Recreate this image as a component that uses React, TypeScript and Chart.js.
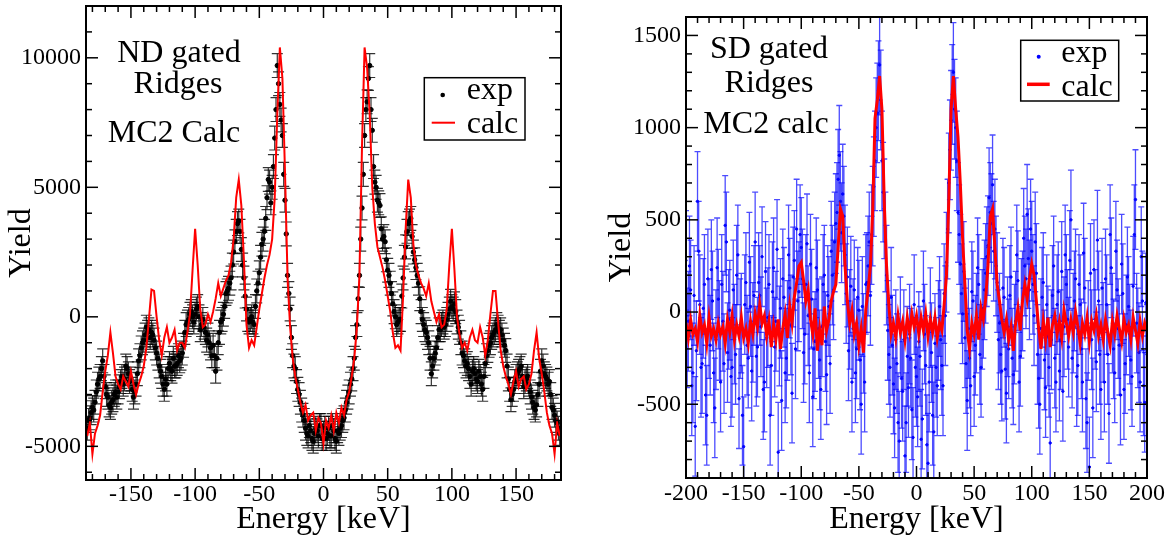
import React, { useEffect, useRef } from 'react';
import { Chart, registerables } from 'chart.js';

Chart.register(...registerables);

const FONT = "'Liberation Serif', 'Times New Roman', Times, serif";
Chart.defaults.font.family = FONT;
Chart.defaults.color = '#000';

// ---------------- Left panel: ND gated ridges ----------------
// even-keV bins, from -184 keV in steps of 2
const ENERGY_L_START = -184;
const ENERGY_L_STEP = 2;
// odd-keV bins, from -183 keV in steps of 2
const ENERGY_L_ODD_START = -183;

const EXP_L = [
  -4300, -3900, -3500, -3300, -2600, -2300, -1700, -2700, -3100, -3500,
  -3200, -2900, -2900, -2500, -2600, -1900, -2200, -2400, -3100, -2600,
  -1700, -1200, -900, -400, -500, -600, -900, -1400, -1900, -2300,
  -2800, -2600, -1800, -2100, -1900, -1800, -1700, -1400, -600, -200,
  100, 0, 100, 400, -500, -100, -600, -700, -1200, -1100,
  -2100, -1000, -200, 100, 900, 1100, 1500, 2500, 3300, 3700,
  2600, 1500, 300, -200, 0, -300, 1000, 1700, 2800, 3300,
  4600, 5200, 5000, 6900, 9700, 8200, 7000, 4500, 1600, 300,
  -1500, -2000, -2800, -3300, -3800, -4300, -4600, -4400, -4800, -4300,
  -4600, -4200, -4500, -4700, -4300, -4600, -4400, -4800, -4500, -4200,
  -3900, -3300, -2900, -2400, -1600, -300, 1600, 4200, 7000, 8300,
  9700, 7200, 5200, 4500, 4300, 3000, 2900, 1800, 1300, 500,
  0, -200, -100, 1500, 2700, 3600, 3800, 2500, 1900, 1300,
  200, -300, -600, -1000, -2200, -1600, -1200, -500, -300, -400,
  -100, 300, 400, 500, -200, -600, -1400, -1700, -1800, -2300,
  -2100, -2200, -2500, -2300, -2800, -1800, -1300, -1000, -700, -500,
  -400, -500, -900, -1300, -2400, -3200, -2800, -2300, -2100, -1900,
  -2700, -2400, -2600, -3100, -3500, -3400, -2600, -1700, -2200, -2400,
  -2500, -3500, -3800, -4100, -4500,
];

const EXP_L_ODD = [
  -4000, -3700, -3600, -2900, -2400, -2000, -2300, -3000, -3400, -3300,
  -3000, -3100, -2700, -2300, -2400, -2000, -2500, -2800, -2900, -2200,
  -1500, -1000, -700, -600, -800, -700, -1200, -1600, -2100, -2600,
  -2400, -2000, -2000, -1600, -1900, -1500, -1600, -1100, -300, -100,
  200, -200, 300, 0, -300, -400, -900, -1000, -1500, -1500,
  -1600, -600, -100, 400, 1000, 1300, 2000, 2900, 3600, 3300,
  2000, 800, -100, -100, -200, 400, 1300, 2300, 3000, 3800,
  5300, 4400, 5800, 8000, 9000, 7600, 5500, 3200, 900, -800,
  -1900, -2500, -3000, -3600, -4000, -4500, -4200, -4700, -4500, -4400,
  -4200, -4700, -4300, -4500, -4600, -4200, -4700, -4400, -4300, -4000,
  -3600, -3100, -2600, -2000, -800, 700, 3000, 5500, 8000, 9200,
  8000, 5800, 5000, 4400, 3400, 3100, 2200, 1600, 900, 200,
  -300, -100, 800, 2300, 3300, 3700, 3100, 2200, 1600, 700,
  -100, -500, -800, -1600, -1900, -1400, -800, -500, -200, -300,
  100, 600, 300, 200, -400, -1000, -1500, -1900, -2000, -2600,
  -2000, -2400, -2100, -2600, -2300, -1500, -1100, -800, -600, -300,
  -600, -700, -1100, -1900, -2800, -3000, -2500, -2200, -2000, -2300,
  -2500, -2300, -2900, -3300, -3600, -3000, -2100, -1900, -2300, -2600,
  -3000, -3600, -4000, -4300,
];

const CALC_L = [
  -4600, -4100, -5300, -4500, -4200, -3800, -2900, -2100, -1500, -600,
  -1400, -2300, -2600, -2800, -2300, -2500, -2700, -2100, -2600, -3000,
  -2600, -2300, -1900, -1200, -100, 1050, 1000, 0, -900, -1500,
  -800, -400, -1000, -800, -500, -1300, -1000, -1000, -1200, -600,
  100, 1800, 3400, 2000, 300, -400, -300, 100, -200, 200,
  700, 1300, 800, 1100, 1400, 1600, 2100, 3000, 4600, 5300,
  4300, 2200, -300, -1200, -900, -1100, -400, 300, 900, 1500,
  2000, 2400, 3000, 4600, 7800, 10400, 9200, 5600, 1500, -400,
  -1600, -2300, -2800, -3300, -3700, -3400, -4000, -3800, -3700, -4400,
  -3900, -4100, -4900, -4000, -4300, -3800, -4400, -3700, -4100, -3500,
  -3800, -3200, -2900, -2300, -1600, -400, 1600, 6600, 10400, 9600,
  7800, 5000, 3600, 2700, 2300, 1900, 1400, 800, 200, -600,
  -1200, -1100, -1300, 800, 3400, 5300, 4600, 2800, 2000, 1600,
  1300, 1100, 800, 1300, 600, 200, -200, 100, -400, -300,
  300, 2000, 3400, 1800, 0, -700, -1200, -1000, -1300, -800,
  -500, -900, -1000, -400, -800, -1500, -900, 100, 1000, 1000,
  -200, -1300, -1900, -2300, -2600, -3000, -2500, -2100, -2700, -2400,
  -2300, -2800, -2600, -2200, -1300, -600, -1600, -2200, -2900, -3700,
  -4200, -4500, -5300, -4100, -4600,
];

const EXP_L_ERR = 460;
const X_TICKS_L = [-150, -100, -50, 0, 50, 100, 150];
const Y_TICKS_L = [-5000, 0, 5000, 10000];
const ENERGY_L = CALC_L.map((_, i) => ENERGY_L_START + i * ENERGY_L_STEP);
const ENERGY_L_ODD = EXP_L_ODD.map((_, i) => ENERGY_L_ODD_START + i * ENERGY_L_STEP);

// ---------------- Right panel: SD gated ridges ----------------
const ENERGY_R_START = -200;
const ENERGY_R_STEP = 2;
const ENERGY_R_ODD_START = -199;

const EXP_R = [
  280, -50, 120, -330, -620, 600, 40, -280, 150, -560,
  -90, 230, -330, -150, 70, -380, -50, 470, -220, 10,
  -300, -120, 200, -470, -60, -730, 160, -250, 30, -110,
  380, -190, 90, 300, -380, -140, 150, -290, 240, -50,
  -760, 20, 180, -330, -100, 130, -440, 280, 450, 110,
  350, -220, 150, -20, 260, -460, -160, 120, -260, -80,
  200, -340, 30, 330, 120, 480, 720, 600, 640, 310,
  190, -40, -380, 120, -200, 10, -500, -170, 150, 250,
  90, 520, 820, 1080, 1340, 820, 560, 200, -230, 80,
  -390, -150, -600, -80, -430, -780, -240, -120, -530, 40,
  -350, -160, -690, 60, -290, -820, -30, -560, -170, -400,
  30, -290, 100, 270, 700, 1040, 1300, 1000, 540, 260,
  -10, -140, -480, -250, 110, -350, -60, 150, -300, 20,
  210, 360, 540, 690, 450, 160, -60, -320, 80, -440,
  -200, 190, -340, -50, 170, -240, 60, 250, 530, 120,
  330, -20, 210, -360, -90, 160, -410, -130, -710, 90,
  -250, 40, -320, 220, -80, 150, -190, 500, -60, 180,
  -290, 40, -380, 130, -600, -840, -150, 230, -270, 60,
  -420, -110, 180, -230, 420, -60, -330, 120, -180, 260,
  -420, -70, 30, -260, 140, 610, -140, -380, 60, -490,
  -230,
];

const EXP_R_ODD = [
  -140, 250, -400, 90, -210, 330, -300, 20, -450, 180,
  -180, 60, -520, 240, -100, 150, -280, 380, -40, -350,
  120, -230, 310, -90, -560, 40, -180, 270, -320, 90,
  -240, 160, -80, -420, 220, -30, -560, 110, -190, 340,
  -130, -480, 80, -250, 310, -70, 190, -200, 60, 420,
  180, -120, 370, -330, 70, -200, 240, -90, -420, 150,
  -160, 90, -280, 200, 380, 540, 850, 430, 520, 100,
  -210, 140, -90, -330, 80, -260, 30, -380, 160, 380,
  420, 680, 1000, 1200, 1150, 650, 380, -100, -300, -180,
  -520, -280, -700, -360, -150, -600, -410, -250, -680, -300,
  -460, -240, -580, -120, -720, -380, -220, -650, -300, -100,
  -150, -400, -20, 450, 880, 1180, 1100, 820, 420, 100,
  220, -280, -90, -400, 60, -180, 240, -230, -40, 120,
  300, 620, 480, 330, 250, -150, -230, 130, -310, -80,
  90, -250, -120, 310, -380, 20, 400, 180, 290, 450,
  150, 380, -230, -500, 80, -260, 40, -300, -150, 250,
  -380, 110, -150, -430, 310, -40, 280, -250, 60, -350,
  150, -200, 320, -470, -100, 210, -520, -40, 390, -230,
  130, -380, 40, -550, 240, -200, 330, -90, -450, 100,
  -280, 190, -120, -350, 420, -60, -220, 300, -400, 50,
];

const CALC_R = [
  -60, -140, -40, -120, -90, -160, -20, -110, -70, -170,
  -30, -130, -90, -150, -60, -120, -80, -170, -40, -110,
  -20, -150, -70, -130, -30, -140, -90, -170, -50, -120,
  -10, -80, 40, -60, -20, -130, -50, -190, -70, -150,
  -40, -200, -90, -10, -140, 30, -60, 80, 160, 250,
  270, 170, 60, 120, -40, -120, 20, -210, -90, -180,
  30, -100, -40, 60, 110, 150, 350, 560, 520, 250,
  60, -60, 10, -120, -60, -180, -90, -220, 10, 120,
  250, 550, 1050, 1150, 1280, 1100, 600, 250, 40, -120,
  -60, -140, -20, -110, -50, -150, -30, -110, -10, -80,
  -20, -120, -30, -100, -10, -130, -40, -110, -30, -140,
  -60, -100, 40, 200, 600, 1100, 1280, 1100, 950, 700,
  400, 150, -100, -200, -60, -120, -20, -150, 20, -40,
  70, 250, 520, 560, 350, 150, 60, -40, -110, -40,
  -150, -80, -210, -60, 20, -100, 60, 150, 70, 180,
  260, 200, 60, -90, -200, -50, -150, -30, -190, -70,
  -20, -120, -50, -140, 10, -60, -130, -40, -110, 0,
  -80, -170, -60, -120, -30, -160, -50, -100, -20, -130,
  -70, -150, -40, -110, -180, -50, -120, -20, -90, -160,
  -40, -110, -70, -150, -30, -100, -170, -50, -130, -60,
  -100,
];

const EXP_R_ERR = 270;
const X_TICKS_R = [-200, -150, -100, -50, 0, 50, 100, 150, 200];
const Y_TICKS_R = [-500, 0, 500, 1000, 1500];
const ENERGY_R = CALC_R.map((_, i) => ENERGY_R_START + i * ENERGY_R_STEP);
const ENERGY_R_ODD = EXP_R_ODD.map((_, i) => ENERGY_R_ODD_START + i * ENERGY_R_STEP);

// ---------------- Plugins ----------------
function makeErrorBars(xs: number[], ys: number[], err: number, color: string, lw: number, cap: number) {
  return {
    id: 'errorBars',
    beforeDatasetsDraw(chart: any) {
      const { ctx, chartArea } = chart;
      const sx = chart.scales.x;
      const sy = chart.scales.y;
      ctx.save();
      ctx.beginPath();
      ctx.rect(chartArea.left, chartArea.top, chartArea.right - chartArea.left, chartArea.bottom - chartArea.top);
      ctx.clip();
      ctx.strokeStyle = color;
      ctx.lineWidth = lw;
      for (let i = 0; i < xs.length; i++) {
        const px = sx.getPixelForValue(xs[i]);
        const y1 = sy.getPixelForValue(ys[i] - err);
        const y2 = sy.getPixelForValue(ys[i] + err);
        ctx.beginPath();
        ctx.moveTo(px, y1);
        ctx.lineTo(px, y2);
        ctx.moveTo(px - cap, y1);
        ctx.lineTo(px + cap, y1);
        ctx.moveTo(px - cap, y2);
        ctx.lineTo(px + cap, y2);
        ctx.stroke();
      }
      ctx.restore();
    },
  };
}

function makeFrame(xMinor: number, yMinor: number) {
  return {
    id: 'frame',
    afterDatasetsDraw(chart: any) {
      const { ctx, chartArea } = chart;
      const { left, right, top, bottom } = chartArea;
      const sx = chart.scales.x;
      const sy = chart.scales.y;
      const majorLen = 12;
      const minorLen = 6;
      ctx.save();
      ctx.strokeStyle = '#000';
      ctx.lineWidth = 1.5;
      const xMajor = sx.ticks.map((t: any) => t.value);
      const yMajor = sy.ticks.map((t: any) => t.value);
      const seg = (x1: number, y1: number, x2: number, y2: number) => {
        ctx.beginPath();
        ctx.moveTo(x1, y1);
        ctx.lineTo(x2, y2);
        ctx.stroke();
      };
      for (let v = Math.ceil(sx.min / xMinor) * xMinor; v <= sx.max + 1e-9; v += xMinor) {
        const len = xMajor.includes(v) ? majorLen : minorLen;
        const p = sx.getPixelForValue(v);
        seg(p, bottom, p, bottom - len);
        seg(p, top, p, top + len);
      }
      for (let v = Math.ceil(sy.min / yMinor) * yMinor; v <= sy.max + 1e-9; v += yMinor) {
        const len = yMajor.includes(v) ? majorLen : minorLen;
        const p = sy.getPixelForValue(v);
        seg(left, p, left + len, p);
        seg(right, p, right - len, p);
      }
      ctx.lineWidth = 2;
      ctx.strokeRect(left, top, right - left, bottom - top);
      ctx.restore();
    },
  };
}

type Note = { text: string; x: number; y: number };
type LegendSpec = {
  box: [number, number, number, number];
  dot: [number, number, number];
  dotColor: string;
  line: [number, number, number];
  lineWidth: number;
  textX: number;
  base1: number;
  base2: number;
};

function makeNotes(notes: Note[], lg: LegendSpec) {
  return {
    id: 'notes',
    afterDraw(chart: any) {
      const { ctx } = chart;
      ctx.save();
      ctx.fillStyle = '#000';
      ctx.font = `32px ${FONT}`;
      ctx.textBaseline = 'alphabetic';
      ctx.textAlign = 'center';
      notes.forEach((n) => ctx.fillText(n.text, n.x, n.y));
      ctx.strokeStyle = '#000';
      ctx.lineWidth = 1.5;
      ctx.strokeRect(lg.box[0], lg.box[1], lg.box[2], lg.box[3]);
      ctx.fillStyle = lg.dotColor;
      ctx.beginPath();
      ctx.arc(lg.dot[0], lg.dot[1], lg.dot[2], 0, Math.PI * 2);
      ctx.fill();
      ctx.strokeStyle = '#ff0000';
      ctx.lineWidth = lg.lineWidth;
      ctx.beginPath();
      ctx.moveTo(lg.line[0], lg.line[2]);
      ctx.lineTo(lg.line[1], lg.line[2]);
      ctx.stroke();
      ctx.fillStyle = '#000';
      ctx.textAlign = 'left';
      const labels = chart.data.datasets.map((d: any) => d.label);
      ctx.fillText(labels[1], lg.textX, lg.base1);
      ctx.fillText(labels[0], lg.textX, lg.base2);
      ctx.restore();
    },
  };
}

function buildConfig(opts: {
  calcEnergies: number[];
  calc: number[];
  expEnergies: number[];
  exp: number[];
  err: number;
  xMin: number;
  xMax: number;
  yMin: number;
  yMax: number;
  xTicks: number[];
  yTicks: number[];
  xMinor: number;
  yMinor: number;
  padTop: number;
  padRight: number;
  xAxisHeight: number;
  xTickPad: number;
  expColor: string;
  pointRadius: number;
  calcWidth: number;
  errColor: string;
  errWidth: number;
  errCap: number;
  notes: Note[];
  legend: LegendSpec;
}): any {
  const zeroPad = (s: any) => {
    s.paddingTop = 0;
    s.paddingBottom = 0;
    s.paddingLeft = 0;
    s.paddingRight = 0;
  };
  return {
    type: 'scatter',
    data: {
      datasets: [
        {
          label: 'calc',
          data: opts.calcEnergies.map((e, i) => ({ x: e, y: opts.calc[i] })),
          showLine: true,
          borderColor: '#ff0000',
          backgroundColor: '#ff0000',
          borderWidth: opts.calcWidth,
          pointRadius: 0,
          tension: 0,
          order: 0,
        },
        {
          label: 'exp',
          data: opts.expEnergies.map((e, i) => ({ x: e, y: opts.exp[i] })),
          showLine: false,
          backgroundColor: opts.expColor,
          borderColor: opts.expColor,
          pointRadius: opts.pointRadius,
          pointBorderWidth: 1,
          order: 1,
        },
      ],
    },
    options: {
      responsive: false,
      animation: false,
      events: [],
      layout: { padding: { left: 0, top: opts.padTop, right: opts.padRight, bottom: 0 } },
      plugins: { legend: { display: false }, tooltip: { enabled: false } },
      scales: {
        x: {
          type: 'linear',
          min: opts.xMin,
          max: opts.xMax,
          grid: { display: false, drawTicks: false },
          border: { display: false },
          ticks: {
            padding: opts.xTickPad,
            font: { size: 24 },
            color: '#000',
            maxRotation: 0,
            autoSkip: false,
            callback: (v: any) => String(v),
          },
          afterBuildTicks: (s: any) => {
            s.ticks = opts.xTicks.map((v) => ({ value: v }));
          },
          afterFit: (s: any) => {
            s.height = opts.xAxisHeight;
            zeroPad(s);
          },
          title: {
            display: true,
            text: 'Energy [keV]',
            font: { size: 32 },
            color: '#000',
            padding: { top: 0, bottom: 0 },
          },
        },
        y: {
          type: 'linear',
          min: opts.yMin,
          max: opts.yMax,
          grid: { display: false, drawTicks: false },
          border: { display: false },
          ticks: {
            padding: 5,
            font: { size: 24 },
            color: '#000',
            autoSkip: false,
            callback: (v: any) => String(v),
          },
          afterBuildTicks: (s: any) => {
            s.ticks = opts.yTicks.map((v) => ({ value: v }));
          },
          afterFit: (s: any) => {
            s.width = 86;
            zeroPad(s);
          },
          title: {
            display: true,
            text: 'Yield',
            font: { size: 32 },
            color: '#000',
            padding: { top: 2, bottom: 0 },
          },
        },
      },
    },
    plugins: [
      makeErrorBars(opts.expEnergies, opts.exp, opts.err, opts.errColor, opts.errWidth, opts.errCap),
      makeFrame(opts.xMinor, opts.yMinor),
      makeNotes(opts.notes, opts.legend),
    ],
  };
}

export default function App() {
  const leftRef = useRef<HTMLCanvasElement>(null);
  const rightRef = useRef<HTMLCanvasElement>(null);

  useEffect(() => {
    const left = new Chart(
      leftRef.current as HTMLCanvasElement,
      buildConfig({
        calcEnergies: ENERGY_L,
        calc: CALC_L,
        expEnergies: [...ENERGY_L, ...ENERGY_L_ODD],
        exp: [...EXP_L, ...EXP_L_ODD],
        err: EXP_L_ERR,
        xMin: -185,
        xMax: 185,
        yMin: -6300,
        yMax: 12000,
        xTicks: X_TICKS_L,
        yTicks: Y_TICKS_L,
        xMinor: 10,
        yMinor: 1000,
        padTop: 6,
        padRight: 39,
        xAxisHeight: 59,
        xTickPad: 0,
        expColor: '#000000',
        pointRadius: 2.2,
        calcWidth: 2,
        errColor: 'rgba(0,0,0,0.8)',
        errWidth: 1.2,
        errCap: 5.5,
        notes: [
          { text: 'ND gated', x: 179, y: 62 },
          { text: 'Ridges', x: 178, y: 93 },
          { text: 'MC2 Calc', x: 174, y: 142 },
        ],
        legend: {
          box: [424.3, 77.7, 100.7, 62.3],
          dot: [442.7, 95, 2.3],
          dotColor: '#000000',
          line: [431.7, 455, 122.7],
          lineWidth: 2,
          textX: 466.7,
          base1: 99,
          base2: 133,
        },
      })
    );
    const right = new Chart(
      rightRef.current as HTMLCanvasElement,
      buildConfig({
        calcEnergies: ENERGY_R,
        calc: CALC_R,
        expEnergies: [...ENERGY_R, ...ENERGY_R_ODD],
        exp: [...EXP_R, ...EXP_R_ODD],
        err: EXP_R_ERR,
        xMin: -200,
        xMax: 200,
        yMin: -900,
        yMax: 1600,
        xTicks: X_TICKS_R,
        yTicks: Y_TICKS_R,
        xMinor: 10,
        yMinor: 100,
        padTop: 17,
        padRight: 26,
        xAxisHeight: 61,
        xTickPad: 1,
        expColor: '#0000ff',
        pointRadius: 1.2,
        calcWidth: 3,
        errColor: 'rgba(0,0,255,0.7)',
        errWidth: 1.3,
        errCap: 3,
        notes: [
          { text: 'SD gated', x: 169, y: 58 },
          { text: 'Ridges', x: 169, y: 92 },
          { text: 'MC2 calc', x: 166, y: 133 },
        ],
        legend: {
          box: [420.7, 40.3, 98, 60.7],
          dot: [438.7, 56.7, 2],
          dotColor: '#0000ff',
          line: [427, 449.7, 84.3],
          lineWidth: 3.5,
          textX: 461.3,
          base1: 61.5,
          base2: 95.5,
        },
      })
    );
    return () => {
      left.destroy();
      right.destroy();
    };
  }, []);

  return (
    <div
      style={{
        position: 'fixed',
        left: 0,
        top: 0,
        width: 1173,
        height: 539,
        background: '#ffffff',
        overflow: 'hidden',
      }}
    >
      <canvas
        ref={leftRef}
        width={600}
        height={539}
        style={{ position: 'absolute', left: 0, top: 0, width: 600, height: 539 }}
      />
      <canvas
        ref={rightRef}
        width={573}
        height={539}
        style={{ position: 'absolute', left: 600, top: 0, width: 573, height: 539 }}
      />
    </div>
  );
}
